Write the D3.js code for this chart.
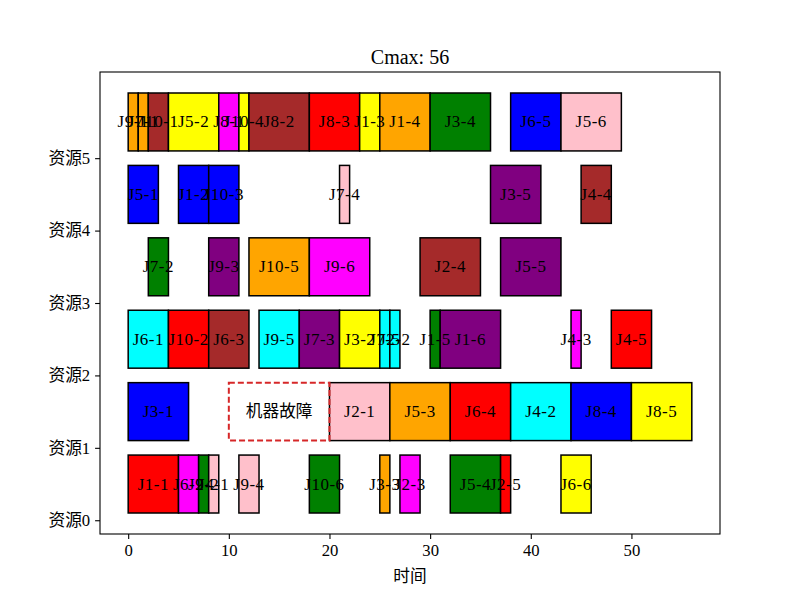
<!DOCTYPE html>
<html>
<head>
<meta charset="utf-8">
<script src="https://cdn.jsdelivr.net/npm/d3@7"></script>
<style>
  body { margin: 0; background: #fff; }
  svg text { font-family: "Liberation Serif", "Noto Sans CJK SC", serif; }
</style>
</head>
<body>
<div id="chart"></div>
<script>
// resources on the y axis
const resources = ['资源0', '资源1', '资源2', '资源3', '资源4', '资源5'];
const xTicks = [0, 10, 20, 30, 40, 50];

// operations: label, resource index, start, end, colour
const opLabels = [
  'J1-1', 'J6-2', 'J9-2', 'J4-1', 'J9-4', 'J10-6', 'J3-3', 'J2-3', 'J5-4', 'J2-5', 'J6-6',
  'J3-1', 'J2-1', 'J5-3', 'J6-4', 'J4-2', 'J8-4', 'J8-5',
  'J6-1', 'J10-2', 'J6-3', 'J9-5', 'J7-3', 'J3-2', 'J7-5', 'J2-2', 'J1-5', 'J1-6', 'J4-3', 'J4-5',
  'J7-2', 'J9-3', 'J10-5', 'J9-6', 'J2-4', 'J5-5',
  'J5-1', 'J1-2', 'J10-3', 'J7-4', 'J3-5', 'J4-4',
  'J9-1', 'J7-1', 'J10-1', 'J5-2', 'J8-1', 'J10-4', 'J8-2', 'J8-3', 'J1-3', 'J1-4', 'J3-4', 'J6-5', 'J5-6'
];
const opResource = [
  0, 0, 0, 0, 0, 0, 0, 0, 0, 0, 0,
  1, 1, 1, 1, 1, 1, 1,
  2, 2, 2, 2, 2, 2, 2, 2, 2, 2, 2, 2,
  3, 3, 3, 3, 3, 3,
  4, 4, 4, 4, 4, 4,
  5, 5, 5, 5, 5, 5, 5, 5, 5, 5, 5, 5, 5
];
const opStart = [
  0, 5, 7, 8, 11, 18, 25, 27, 32, 37, 43,
  0, 20, 26, 32, 38, 44, 50,
  0, 4, 8, 13, 17, 21, 25, 26, 30, 31, 44, 48,
  2, 8, 12, 18, 29, 37,
  0, 5, 8, 21, 36, 45,
  0, 1, 2, 4, 9, 11, 12, 18, 23, 25, 30, 38, 43
];
const opEnd = [
  5, 7, 8, 9, 13, 21, 26, 29, 37, 38, 46,
  6, 26, 32, 38, 44, 50, 56,
  4, 8, 12, 17, 21, 25, 26, 27, 31, 37, 45, 52,
  4, 11, 18, 24, 35, 43,
  3, 8, 11, 22, 41, 48,
  1, 2, 4, 9, 11, 12, 18, 23, 25, 30, 36, 43, 49
];
const opColor = [
  'red', 'magenta', 'green', 'pink', 'pink', 'green', 'orange', 'magenta', 'green', 'red', 'yellow',
  'blue', 'pink', 'orange', 'red', 'cyan', 'blue', 'yellow',
  'cyan', 'red', 'brown', 'cyan', 'purple', 'yellow', 'cyan', 'cyan', 'green', 'purple', 'magenta', 'red',
  'green', 'purple', 'orange', 'magenta', 'brown', 'purple',
  'blue', 'blue', 'blue', 'pink', 'purple', 'brown',
  'orange', 'orange', 'brown', 'yellow', 'magenta', 'yellow', 'brown', 'red', 'yellow', 'orange', 'green', 'blue', 'pink'
];

// machine breakdown window
const faultResource = 1;
const faultStart = 10;
const faultEnd = 20;
const faultLabel = '机器故障';

const title = 'Cmax: 56';
const xLabel = '时间';

const width = 800, height = 600;
const margin = { top: 72, right: 80, bottom: 66, left: 100 };

const svg = d3.select('#chart').append('svg')
  .attr('width', width)
  .attr('height', height);

const x = d3.scaleLinear()
  .domain([-2.8, 58.8])
  .range([margin.left, width - margin.right]);

const y = d3.scaleLinear()
  .domain([-0.19, 6.19])
  .range([height - margin.bottom, margin.top]);

const ops = opLabels.map((label, i) => ({
  label,
  res: opResource[i],
  start: opStart[i],
  end: opEnd[i],
  color: opColor[i]
}));

// bars
svg.append('g')
  .selectAll('rect')
  .data(ops)
  .join('rect')
  .attr('x', d => x(d.start))
  .attr('y', d => y(d.res + 0.9))
  .attr('width', d => x(d.end) - x(d.start))
  .attr('height', d => y(d.res + 0.1) - y(d.res + 0.9))
  .attr('fill', d => d.color)
  .attr('stroke', '#000')
  .attr('stroke-width', 1.5);

// breakdown box
svg.append('rect')
  .attr('x', x(faultStart))
  .attr('y', y(faultResource + 0.9))
  .attr('width', x(faultEnd) - x(faultStart))
  .attr('height', y(faultResource + 0.1) - y(faultResource + 0.9))
  .attr('fill', 'none')
  .attr('stroke', '#d62728')
  .attr('stroke-width', 2)
  .attr('stroke-dasharray', '6,3');

svg.append('text')
  .attr('x', x((faultStart + faultEnd) / 2))
  .attr('y', y(faultResource + 0.5))
  .attr('text-anchor', 'middle')
  .attr('dominant-baseline', 'central')
  .attr('font-size', '16.7px')
  .attr('fill', '#000')
  .text(faultLabel);

// labels on top of all bars
svg.append('g')
  .selectAll('text')
  .data(ops)
  .join('text')
  .attr('x', d => x((d.start + d.end) / 2))
  .attr('y', d => y(d.res + 0.5))
  .attr('text-anchor', 'middle')
  .attr('dominant-baseline', 'central')
  .attr('font-size', '17px')
  .attr('letter-spacing', '0.5px')
  .attr('fill', '#000')
  .text(d => d.label);

// axes
const xAxis = svg.append('g')
  .attr('transform', `translate(0,${height - margin.bottom})`)
  .call(d3.axisBottom(x).tickValues(xTicks).tickSize(4.9).tickPadding(4.9));

const yAxis = svg.append('g')
  .attr('transform', `translate(${margin.left},0)`)
  .call(d3.axisLeft(y).tickValues(d3.range(resources.length))
    .tickFormat(i => resources[i]).tickSize(4.9).tickPadding(4.9));

[xAxis, yAxis].forEach(a => {
  a.select('.domain').remove();
  a.selectAll('line').attr('stroke', '#000').attr('stroke-width', 1.1);
  a.selectAll('text')
    .attr('font-size', '16.7px')
    .attr('fill', '#000')
    .style('font-family', '"Liberation Serif", "Noto Sans CJK SC", serif');
});

// frame
svg.append('rect')
  .attr('x', margin.left)
  .attr('y', margin.top)
  .attr('width', width - margin.left - margin.right)
  .attr('height', height - margin.top - margin.bottom)
  .attr('fill', 'none')
  .attr('stroke', '#000')
  .attr('stroke-width', 1.1);

// title and axis label
svg.append('text')
  .attr('x', (margin.left + width - margin.right) / 2)
  .attr('y', 64)
  .attr('text-anchor', 'middle')
  .attr('font-size', '20px')
  .attr('fill', '#000')
  .text(title);

svg.append('text')
  .attr('x', (margin.left + width - margin.right) / 2)
  .attr('y', 582)
  .attr('text-anchor', 'middle')
  .attr('font-size', '16.7px')
  .attr('fill', '#000')
  .text(xLabel);
</script>
</body>
</html>
